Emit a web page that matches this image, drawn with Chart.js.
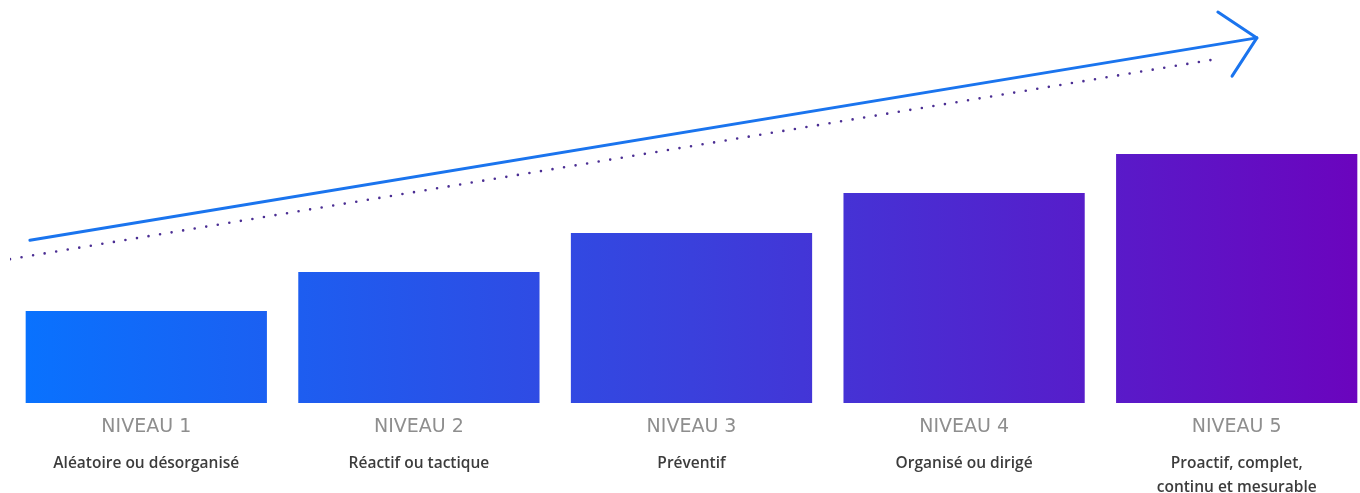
<!DOCTYPE html>
<html lang="fr">
<head>
<meta charset="utf-8">
<title>Niveaux de maturité</title>
<script src="https://cdn.jsdelivr.net/npm/chart.js@4"></script>
<style>
  html, body { margin: 0; padding: 0; background: #fff; overflow: hidden; }
  #wrap { width: 1373px; height: 493px; position: relative; }
</style>
</head>
<body>
<div id="wrap"><canvas id="grafico"></canvas></div>
<script>
"use strict";

/* ── DONNÉES ─────────────────────────────── */
const niveaux      = ["NIVEAU 1", "NIVEAU 2", "NIVEAU 3", "NIVEAU 4", "NIVEAU 5"];
const descriptions = [
  "Aléatoire ou désorganisé",
  "Réactif ou tactique",
  "Préventif",
  "Organisé ou dirigé",
  ["Proactif, complet,", "continu et mesurable"]
];
const valeurs = [22.8, 32.5, 42.2, 52.1, 61.8];

// flèche de progression (x en index de niveau, y sur l'échelle 0-100)
const flecheX     = [-0.427, 4.074];
const flecheY     = [40.4, 90.6];
const pointeX     = [3.931, 4.074, 3.983];
const pointeY     = [97.0, 90.6, 81.1];
const pointillesX = [-0.5, 3.931];
const pointillesY = [35.7, 85.4];

const points = (xs, ys) => xs.map((x, i) => ({ x, y: ys[i] }));

/* ── DÉGRADÉ ─────────────────────────────── */
function degrade(ctx) {
  const area = ctx.chart.chartArea;
  if (!area) return "#2a50e8";
  const g = ctx.chart.ctx.createLinearGradient(area.left, 0, area.right, 0);
  g.addColorStop(0, "#0873ff");
  g.addColorStop(0.5, "#3a40dc");
  g.addColorStop(1, "#6c03bd");
  return g;
}

/* ── GRAPHIQUE ───────────────────────────── */
const ligne = {
  type: "line",
  xAxisID: "xl",
  pointRadius: 0,
  fill: false,
  tension: 0,
  borderJoinStyle: "round"
};

new Chart(document.getElementById("grafico"), {
  data: {
    labels: niveaux,
    datasets: [
      {
        type: "bar",
        data: valeurs,
        backgroundColor: degrade,
        borderWidth: 0,
        grouped: false,
        categoryPercentage: 1,
        barPercentage: 0.885,
        order: 3
      },
      Object.assign({}, ligne, {
        data: points(pointillesX, pointillesY),
        borderColor: "#4b2e93",
        borderWidth: 2.6,
        borderDash: [0, 11.7],
        borderCapStyle: "round",
        order: 2
      }),
      Object.assign({}, ligne, {
        data: points(flecheX, flecheY),
        borderColor: "#1a74ee",
        borderWidth: 3,
        borderCapStyle: "round",
        order: 1
      }),
      Object.assign({}, ligne, {
        data: points(pointeX, pointeY),
        borderColor: "#1a74ee",
        borderWidth: 3,
        borderCapStyle: "round",
        order: 1
      })
    ]
  },
  options: {
    responsive: true,
    maintainAspectRatio: false,
    animation: false,
    layout: { padding: { left: 10, right: 0, top: 0, bottom: 0 } },
    plugins: { legend: { display: false }, tooltip: { enabled: false } },
    scales: {
      x: {
        type: "category",
        position: "bottom",
        weight: 0,
        offset: true,
        grid: { display: false, drawTicks: false },
        border: { display: false },
        ticks: {
          color: "#8e8e8e",
          font: { family: "'DejaVu Sans'", size: 19 },
          padding: 13,
          maxRotation: 0,
          autoSkip: false
        },
        afterFit: a => { a.height = 42; }
      },
      x2: {
        type: "category",
        position: "bottom",
        weight: 1,
        offset: true,
        labels: descriptions,
        grid: { display: false, drawTicks: false },
        border: { display: false },
        ticks: {
          color: "#3c3c3c",
          font: { family: "'Open Sans'", size: 15.5, weight: "600", lineHeight: 1.55 },
          padding: 7,
          maxRotation: 0,
          autoSkip: false
        },
        afterFit: a => { a.height = 48; }
      },
      xl: {
        type: "linear",
        display: false,
        min: -0.5,
        max: 4.5
      },
      y: {
        display: false,
        min: 0,
        max: 100
      }
    }
  }
});
</script>
</body>
</html>
